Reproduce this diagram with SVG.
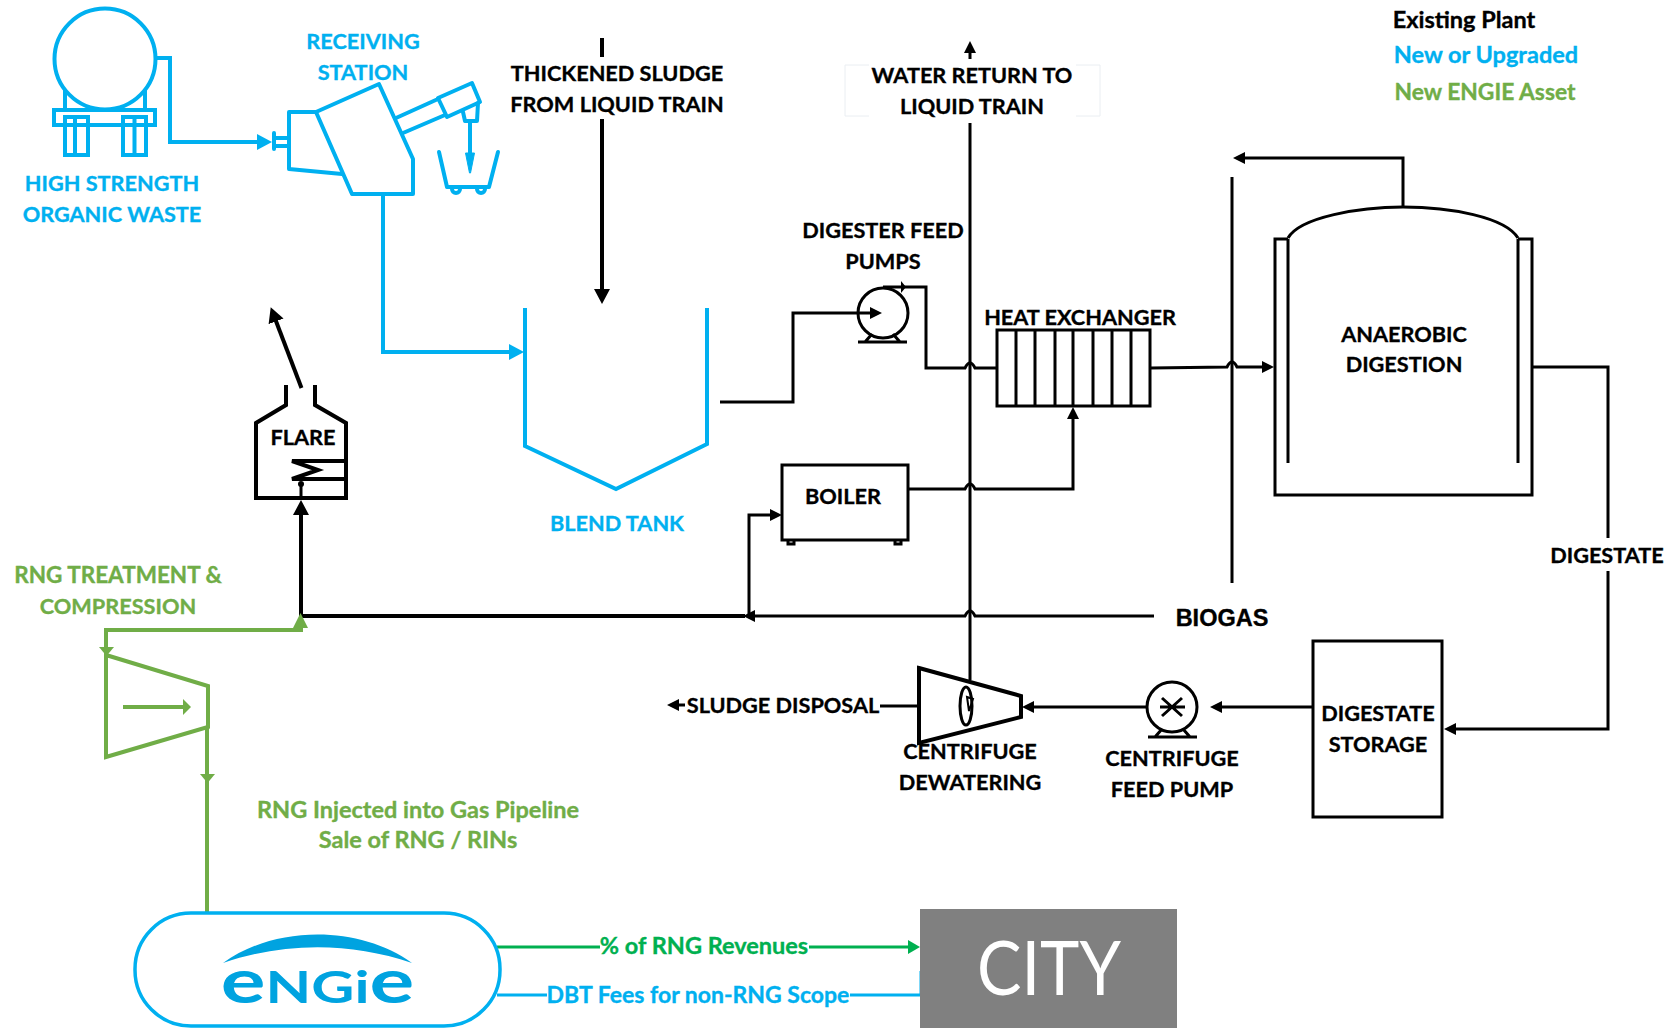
<svg xmlns="http://www.w3.org/2000/svg" width="1670" height="1028" viewBox="0 0 1670 1028">
<style>
text{font-family:"Lato","Liberation Sans",sans-serif;font-weight:700;font-size:21.700px;text-anchor:middle;stroke-width:.35px}
.k{fill:#000;stroke:#000}.b{fill:#00b0f0;stroke:#00b0f0}.g{fill:#70ad47;stroke:#70ad47}.e{fill:#00b050;stroke:#00b050}
.m{font-size:23.500px}
.ks{fill:none;stroke:#000;stroke-width:3}
.kt{fill:none;stroke:#000;stroke-width:4}
.bs{fill:none;stroke:#00b0f0;stroke-width:4;stroke-linejoin:round;stroke-linecap:round}
.bc{fill:none;stroke:#00b0f0;stroke-width:4}
.gs{fill:none;stroke:#70ad47;stroke-width:4}
</style>
<defs>
<marker id="ak" markerUnits="userSpaceOnUse" markerWidth="13" markerHeight="13" refX="8" refY="6.500" orient="auto"><path d="M0 0.500L12 6.500L0 12.500z" fill="#000"/></marker>
<marker id="akb" markerUnits="userSpaceOnUse" markerWidth="16" markerHeight="17" refX="10" refY="8.500" orient="auto"><path d="M0 0.500L15 8.500L0 16.500z" fill="#000"/></marker>
<marker id="ab" markerUnits="userSpaceOnUse" markerWidth="16" markerHeight="17" refX="10" refY="8.500" orient="auto"><path d="M0 0.500L15 8.500L0 16.500z" fill="#00b0f0"/></marker>
<marker id="ae" markerUnits="userSpaceOnUse" markerWidth="13" markerHeight="15" refX="8" refY="7.500" orient="auto"><path d="M0 0.500L12 7.500L0 14.500z" fill="#00b050"/></marker>
</defs>
<g id="connectors">
<path class="bc" d="M157 58H170V142H267" marker-end="url(#ab)"/>
<path class="bc" d="M383 194V352H519" marker-end="url(#ab)"/>
<path class="kt" d="M602 38V57"/>
<path class="kt" d="M602 119V299" marker-end="url(#akb)"/>
<path class="ks" d="M970 680V123"/>
<path class="ks" d="M970 59V45" marker-end="url(#ak)"/>
<path class="ks" d="M720 402H793V313H878" marker-end="url(#ak)"/>
<path class="ks" d="M883 287H926V368H965Q970 358 975 368H997"/>
<path class="ks" d="M908 489H965Q970 479 975 489H1073V411" marker-end="url(#ak)"/>
<path class="ks" d="M1151 368L1227 367Q1232 357 1237 367H1270" marker-end="url(#ak)"/>
<path class="ks" d="M1232 177V583"/>
<path class="ks" d="M1403 207V158H1237" marker-end="url(#ak)"/>
<path class="ks" d="M1533 367H1608V729H1448" marker-end="url(#ak)"/>
<path class="ks" d="M1154 616H975Q970 606 965 616H747" marker-end="url(#ak)"/>
<path class="kt" d="M745 616H301V505" marker-end="url(#akb)"/>
<path class="ks" d="M749 616V515H778" marker-end="url(#ak)"/>
<path class="ks" d="M1312 707H1214" marker-end="url(#ak)"/>
<path class="ks" d="M1147 707H1026" marker-end="url(#ak)"/>
<path class="ks" d="M919 706H880"/>
<path class="ks" d="M685 705H671" marker-end="url(#ak)"/>
<path class="gs" d="M106 660V630H301V620"/>
<path d="M293 628L300.500 613L308 628z" fill="#70ad47"/>
<path class="gs" d="M207 727V912"/>
<path d="M200 774H215L207.500 783z" fill="#70ad47"/>
<path d="M99 647H114L106.500 656z" fill="#70ad47"/>
<path d="M497 947H600" stroke="#00b050" stroke-width="3"/>
<path d="M809 947H916" stroke="#00b050" stroke-width="3" marker-end="url(#ae)"/>
<path d="M497 995H547M850 995H921V971" stroke="#00b0f0" stroke-width="3" fill="none"/>
<path class="kt" d="M301.500 388L272.500 312" marker-end="url(#akb)"/>
</g>
<g id="tanker">
<circle cx="105" cy="59" r="50.500" class="bc" fill="#fff"/>
<path class="bc" d="M65 90V110M145 90V110M54 110H155V125H54zM65 117H88V155H65zM75 117V155M123 117H146V155H123zM134.500 117V155M88 125H123"/>
<text class="b"><tspan x="112" y="191">HIGH STRENGTH</tspan><tspan x="112" y="222">ORGANIC WASTE</tspan></text>
</g>
<g id="receiving-station">
<path class="bs" d="M379 84L413 159V194H352L316 112z"/>
<path class="bs" d="M316 112H289V169L342 174"/>
<path class="bs" d="M274 133V149M274 138H289M274 146H289"/>
<path class="bs" d="M396 118L438 99M403 133L445 115M438 98L447 117M438 98L472 83L480 102L447 117"/>
<path class="bs" d="M463 112L465 121H477L478 103"/>
<path class="bc" d="M470 121V155" stroke-width="3"/>
<path d="M465.500 153H474.500L470.500 173H469.500z" fill="#00b0f0" stroke="#00b0f0" stroke-width="1" stroke-linejoin="round"/>
<path class="bs" d="M439 152L447 187H489L498 152"/>
<path class="bs" d="M452 189A4 4 0 1 0 460 189M477 189A4 4 0 1 0 485 189" stroke-width="3"/>
<text class="b"><tspan x="363" y="49">RECEIVING</tspan><tspan x="363" y="80">STATION</tspan></text>
</g>
<g id="thickened-sludge-label"><text class="k"><tspan x="617" y="81">THICKENED SLUDGE</tspan><tspan x="617" y="112">FROM LIQUID TRAIN</tspan></text></g>
<g id="blend-tank">
<path class="bc" d="M525 308V446L616 489L707 444V308"/>
<text class="b" x="617" y="531">BLEND TANK</text>
</g>
<g id="water-return">
<path fill="none" stroke="#eaeef2" stroke-width="1" d="M869 65H845V116H869M1076 65H1100V116H1076"/>
<text class="k"><tspan x="972" y="83">WATER RETURN TO</tspan><tspan x="972" y="114">LIQUID TRAIN</tspan></text>
</g>
<g id="digester-feed-pumps">
<circle cx="883" cy="313" r="25" class="ks"/>
<path class="ks" d="M858 342H907M865 342L872 334M900 342L893 334"/>
<path d="M901 281L906 287L901 293z"/>
<text class="k"><tspan x="883" y="238">DIGESTER FEED</tspan><tspan x="883" y="269">PUMPS</tspan></text>
</g>
<g id="heat-exchanger">
<path class="ks" d="M997 330H1150V406H997zM1016 330V406M1035 330V406M1055 330V406M1073 330V406M1093 330V406M1112 330V406M1131 330V406"/>
<text class="k" x="1080" y="325">HEAT EXCHANGER</text>
</g>
<g id="anaerobic-digestion">
<path class="ks" d="M1288 239H1275V495H1532V239H1518"/>
<path class="ks" d="M1288 239V463M1518 239V463M1288 238C1300 217 1360 207 1403 207C1450 207 1505 217 1518 238"/>
<text class="k"><tspan x="1404" y="342">ANAEROBIC</tspan><tspan x="1404" y="372">DIGESTION</tspan></text>
</g>
<g id="flare">
<path class="kt" d="M286 385V405L256 423V498H346V423L315 405V385"/>
<path class="kt" d="M347 461H292L318 470L292 479H347"/>
<path class="ks" d="M301 484V500"/>
<circle cx="301" cy="484" r="3"/>
<text class="k" x="303" y="445">FLARE</text>
</g>
<g id="boiler">
<path class="ks" d="M782 465H908V540H782z"/>
<path class="ks" d="M788 540V544H794V540M895 540V544H901V540"/>
<text class="k" x="843" y="504">BOILER</text>
</g>
<g id="biogas-label"><text class="k" x="1222" y="626" style="font-family:'Liberation Sans',Arial,sans-serif;font-size:23.500px">BIOGAS</text></g>
<g id="digestate-label"><rect x="1547" y="538" width="118" height="33" fill="#fff"/><text class="k" x="1607" y="563">DIGESTATE</text></g>
<g id="centrifuge">
<path class="kt" d="M919 668L1021 696V717L919 743z"/>
<ellipse cx="966" cy="706" rx="6" ry="19" class="ks"/>
<path d="M967 697L973 699L969 711z" fill="none" stroke="#000" stroke-width="2"/>
<text class="k" x="783" y="713">SLUDGE DISPOSAL</text>
<text class="k"><tspan x="970" y="759">CENTRIFUGE</tspan><tspan x="970" y="790">DEWATERING</tspan></text>
</g>
<g id="centrifuge-feed-pump">
<circle cx="1172" cy="707" r="25" class="ks"/>
<path class="ks" d="M1162 698L1182 716M1182 698L1162 716M1160 707H1185M1148 737H1197M1155 737L1162 729M1190 737L1183 729"/>
<text class="k"><tspan x="1172" y="766">CENTRIFUGE</tspan><tspan x="1172" y="797">FEED PUMP</tspan></text>
</g>
<g id="digestate-storage">
<rect x="1313" y="641" width="129" height="176" class="ks"/>
<text class="k"><tspan x="1378" y="721">DIGESTATE</tspan><tspan x="1378" y="752">STORAGE</tspan></text>
</g>
<g id="compressor">
<path class="gs" d="M106 655L208 686V727L106 757z"/>
<path class="gs" d="M123 707H186"/><path d="M183 699L191 707L183 715z" fill="#70ad47"/>
<text class="g"><tspan x="118" y="583" style="font-size:22.500px">RNG TREATMENT &amp;</tspan><tspan x="118" y="614">COMPRESSION</tspan></text>
</g>
<g id="rng-label"><text class="g m"><tspan x="418" y="818">RNG Injected into Gas Pipeline</tspan><tspan x="418" y="848">Sale of RNG / RINs</tspan></text></g>
<g id="engie">
<rect x="135" y="913" width="365" height="113" rx="56" fill="#fff" stroke="#00b0f0" stroke-width="3.500"/>
<path d="M223 963C275 925 360 925 412 963C350 942 285 942 223 963z" fill="#00a3e0"/>
<text transform="translate(317.500 1003) scale(1.350 1)" style="font-size:44px;stroke-width:0" fill="#00a3e0"><tspan style="font-size:62px">e</tspan>NG<tspan>i</tspan><tspan style="font-size:62px">e</tspan></text>
</g>
<g id="flows">
<text class="e m" x="704" y="954">% of RNG Revenues</text>
<text class="b" style="font-size:23px" x="698" y="1003">DBT Fees for non-RNG Scope</text>
</g>
<g id="city">
<rect x="920" y="909" width="257" height="119" fill="#808080"/>
<text x="1049" y="995" textLength="144" lengthAdjust="spacingAndGlyphs" style="font-size:76px;font-weight:400;stroke-width:0" fill="#fff">CITY</text>
</g>
<g id="legend">
<text class="k m" x="1464" y="28">Existing Plant</text>
<text class="b m" x="1486" y="63">New or Upgraded</text>
<text class="g" style="font-size:22.800px" x="1485" y="100">New ENGIE Asset</text>
</g>
</svg>
